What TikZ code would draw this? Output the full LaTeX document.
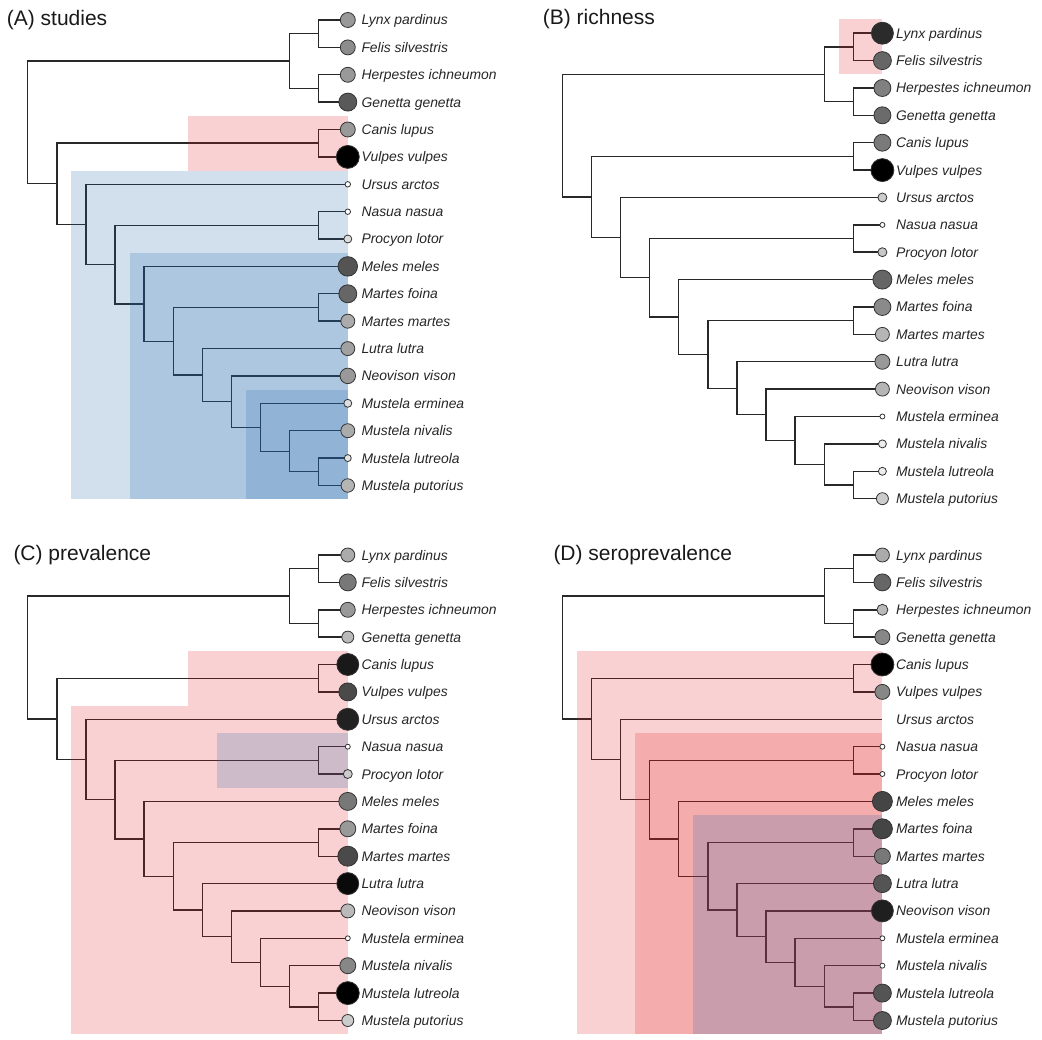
\documentclass[tikz,border=0pt]{standalone}
\usepackage{fontspec}
\setmainfont{Liberation Sans}

\definecolor{hlred}{RGB}{228,26,28}
\definecolor{hlblue}{RGB}{31,100,170}
\definecolor{branchcol}{RGB}{40,40,40}

% one carnivore tree, drawn in the frame of the current scope
\newcommand{\carntree}{%
  \coordinate (lynx) at (347.8,20);
  \coordinate (felis) at (347.8,47.4);
  \coordinate (herp) at (347.8,74.8);
  \coordinate (gen) at (347.8,102.1);
  \coordinate (canis) at (347.8,129.5);
  \coordinate (vulpes) at (347.8,156.9);
  \coordinate (ursus) at (347.8,184.3);
  \coordinate (nasua) at (347.8,211.7);
  \coordinate (procyon) at (347.8,239.0);
  \coordinate (meles) at (347.8,266.4);
  \coordinate (mfoina) at (347.8,293.8);
  \coordinate (mmartes) at (347.8,321.2);
  \coordinate (lutra) at (347.8,348.6);
  \coordinate (neo) at (347.8,375.9);
  \coordinate (ermin) at (347.8,403.3);
  \coordinate (nival) at (347.8,430.7);
  \coordinate (lutreo) at (347.8,458.1);
  \coordinate (putor) at (347.8,485.5);
  % inner nodes
  \coordinate (fel) at (318.7,33.7);
  \coordinate (her) at (318.7,88.45);
  \coordinate (feli) at (289.6,61.1);
  \coordinate (can) at (318.7,143.2);
  \coordinate (proc) at (318.7,225.35);
  \coordinate (mar) at (318.7,307.5);
  \coordinate (mus3) at (318.7,471.8);
  \coordinate (mus2) at (289.6,451.25);
  \coordinate (mus1) at (260.5,427.3);
  \coordinate (mneo) at (231.4,401.6);
  \coordinate (mlut) at (202.3,375.1);
  \coordinate (mmar) at (173.2,341.3);
  \coordinate (mustel) at (144.1,303.85);
  \coordinate (muste) at (115,264.6);
  \coordinate (arct) at (85.9,224.45);
  \coordinate (canif) at (56.8,183.8);
  \coordinate (root) at (27.7,122.45);
  % branches
  \draw[branch] (root) |- (feli);
  \draw[branch] (root) |- (canif);
  \draw[branch] (feli) |- (fel);
  \draw[branch] (feli) |- (her);
  \draw[branch] (fel) |- (lynx);
  \draw[branch] (fel) |- (felis);
  \draw[branch] (her) |- (herp);
  \draw[branch] (her) |- (gen);
  \draw[branch] (canif) |- (can);
  \draw[branch] (canif) |- (arct);
  \draw[branch] (can) |- (canis);
  \draw[branch] (can) |- (vulpes);
  \draw[branch] (arct) |- (ursus);
  \draw[branch] (arct) |- (muste);
  \draw[branch] (muste) |- (proc);
  \draw[branch] (muste) |- (mustel);
  \draw[branch] (proc) |- (nasua);
  \draw[branch] (proc) |- (procyon);
  \draw[branch] (mustel) |- (meles);
  \draw[branch] (mustel) |- (mmar);
  \draw[branch] (mmar) |- (mar);
  \draw[branch] (mmar) |- (mlut);
  \draw[branch] (mar) |- (mfoina);
  \draw[branch] (mar) |- (mmartes);
  \draw[branch] (mlut) |- (lutra);
  \draw[branch] (mlut) |- (mneo);
  \draw[branch] (mneo) |- (neo);
  \draw[branch] (mneo) |- (mus1);
  \draw[branch] (mus1) |- (ermin);
  \draw[branch] (mus1) |- (mus2);
  \draw[branch] (mus2) |- (nival);
  \draw[branch] (mus2) |- (mus3);
  \draw[branch] (mus3) |- (lutreo);
  \draw[branch] (mus3) |- (putor);
  % tip labels
  \node[taxon] (lynx-lab) at ([xshift=13.5pt,yshift=-5pt]lynx) {Lynx pardinus};
  \node[taxon] (felis-lab) at ([xshift=13.5pt,yshift=-5pt]felis) {Felis silvestris};
  \node[taxon] (herp-lab) at ([xshift=13.5pt,yshift=-5pt]herp) {Herpestes ichneumon};
  \node[taxon] (gen-lab) at ([xshift=13.5pt,yshift=-5pt]gen) {Genetta genetta};
  \node[taxon] (canis-lab) at ([xshift=13.5pt,yshift=-5pt]canis) {Canis lupus};
  \node[taxon] (vulpes-lab) at ([xshift=13.5pt,yshift=-5pt]vulpes) {Vulpes vulpes};
  \node[taxon] (ursus-lab) at ([xshift=13.5pt,yshift=-5pt]ursus) {Ursus arctos};
  \node[taxon] (nasua-lab) at ([xshift=13.5pt,yshift=-5pt]nasua) {Nasua nasua};
  \node[taxon] (procyon-lab) at ([xshift=13.5pt,yshift=-5pt]procyon) {Procyon lotor};
  \node[taxon] (meles-lab) at ([xshift=13.5pt,yshift=-5pt]meles) {Meles meles};
  \node[taxon] (mfoina-lab) at ([xshift=13.5pt,yshift=-5pt]mfoina) {Martes foina};
  \node[taxon] (mmartes-lab) at ([xshift=13.5pt,yshift=-5pt]mmartes) {Martes martes};
  \node[taxon] (lutra-lab) at ([xshift=13.5pt,yshift=-5pt]lutra) {Lutra lutra};
  \node[taxon] (neo-lab) at ([xshift=13.5pt,yshift=-5pt]neo) {Neovison vison};
  \node[taxon] (ermin-lab) at ([xshift=13.5pt,yshift=-5pt]ermin) {Mustela erminea};
  \node[taxon] (nival-lab) at ([xshift=13.5pt,yshift=-5pt]nival) {Mustela nivalis};
  \node[taxon] (lutreo-lab) at ([xshift=13.5pt,yshift=-5pt]lutreo) {Mustela lutreola};
  \node[taxon] (putor-lab) at ([xshift=13.5pt,yshift=-5pt]putor) {Mustela putorius};
}

\begin{document}
\begin{tikzpicture}[x=1pt, y=-1pt,
    branch/.style={draw=branchcol, line width=1.4pt},
    hl/.style={fill=#1, fill opacity=0.2, draw=none},
    tipdot/.style 2 args={circle, draw=black!80, line width=0.8pt, inner sep=0pt,
      minimum size=#1pt, fill=black!#2},
    taxon/.style={anchor=base west, inner sep=0pt, text=black!85,
      font=\fontsize{13.9}{16}\selectfont\itshape},
    paneltitle/.style={anchor=base west, inner sep=0pt, text=black!90,
      font=\fontsize{21}{25}\selectfont}]
  \useasboundingbox (0,0) rectangle (1042,1040);

  \node[paneltitle] (title-a) at (6.7,26) {(A) studies};
  \node[paneltitle] (title-b) at (542.7,25) {(B) richness};
  \node[paneltitle] (title-c) at (13.3,560.7) {(C) prevalence};
  \node[paneltitle] (title-d) at (553.3,560.7) {(D) seroprevalence};

  % (A) studies
  \begin{scope}[name prefix=a-]
    \carntree
    \fill[hl=hlred] (187.75,115.8) rectangle (347.8,170.6);
    \fill[hl=hlblue] (71.35,170.6) rectangle (347.8,499.2);
    \fill[hl=hlblue] (129.55,252.7) rectangle (347.8,499.2);
    \fill[hl=hlblue] (245.95,389.6) rectangle (347.8,499.2);
    \node[tipdot={15}{40}] (lynx-pt) at (lynx) {};
    \node[tipdot={15}{45}] (felis-pt) at (felis) {};
    \node[tipdot={15}{40}] (herp-pt) at (herp) {};
    \node[tipdot={18}{65}] (gen-pt) at (gen) {};
    \node[tipdot={15}{40}] (canis-pt) at (canis) {};
    \node[tipdot={23}{100}] (vulpes-pt) at (vulpes) {};
    \node[tipdot={5.5}{0}] (ursus-pt) at (ursus) {};
    \node[tipdot={5.5}{0}] (nasua-pt) at (nasua) {};
    \node[tipdot={8}{13}] (procyon-pt) at (procyon) {};
    \node[tipdot={19.5}{67}] (meles-pt) at (meles) {};
    \node[tipdot={18}{60}] (mfoina-pt) at (mfoina) {};
    \node[tipdot={14}{33}] (mmartes-pt) at (mmartes) {};
    \node[tipdot={14}{37}] (lutra-pt) at (lutra) {};
    \node[tipdot={15.5}{40}] (neo-pt) at (neo) {};
    \node[tipdot={8}{13}] (ermin-pt) at (ermin) {};
    \node[tipdot={14}{33}] (nival-pt) at (nival) {};
    \node[tipdot={7}{10}] (lutreo-pt) at (lutreo) {};
    \node[tipdot={13.5}{29}] (putor-pt) at (putor) {};
  \end{scope}

  % (B) richness
  \begin{scope}[shift={(534.6,13.2)}, name prefix=b-]
    \carntree
    \fill[hl=hlred] (304.15,6.3) rectangle (347.8,61.1);
    \node[tipdot={22}{83}] (lynx-pt) at (lynx) {};
    \node[tipdot={18}{60}] (felis-pt) at (felis) {};
    \node[tipdot={17}{50}] (herp-pt) at (herp) {};
    \node[tipdot={17}{58}] (gen-pt) at (gen) {};
    \node[tipdot={17}{52}] (canis-pt) at (canis) {};
    \node[tipdot={23}{100}] (vulpes-pt) at (vulpes) {};
    \node[tipdot={9}{20}] (ursus-pt) at (ursus) {};
    \node[tipdot={5}{0}] (nasua-pt) at (nasua) {};
    \node[tipdot={9}{22}] (procyon-pt) at (procyon) {};
    \node[tipdot={19}{60}] (meles-pt) at (meles) {};
    \node[tipdot={17}{46}] (mfoina-pt) at (mfoina) {};
    \node[tipdot={14}{29}] (mmartes-pt) at (mmartes) {};
    \node[tipdot={15}{40}] (lutra-pt) at (lutra) {};
    \node[tipdot={14}{29}] (neo-pt) at (neo) {};
    \node[tipdot={5}{0}] (ermin-pt) at (ermin) {};
    \node[tipdot={8}{7}] (nival-pt) at (nival) {};
    \node[tipdot={8}{7}] (lutreo-pt) at (lutreo) {};
    \node[tipdot={12}{20}] (putor-pt) at (putor) {};
  \end{scope}

  % (C) prevalence
  \begin{scope}[shift={(0,535)}, name prefix=c-]
    \carntree
    \fill[hl=hlred] (187.75,115.8) rectangle (347.8,170.6);
    \fill[hl=hlred] (71.35,170.6) rectangle (347.8,499.2);
    \fill[hl=hlblue] (216.85,197.9) rectangle (347.8,252.7);
    \node[tipdot={14}{33}] (lynx-pt) at (lynx) {};
    \node[tipdot={17}{53}] (felis-pt) at (felis) {};
    \node[tipdot={15}{40}] (herp-pt) at (herp) {};
    \node[tipdot={12}{27}] (gen-pt) at (gen) {};
    \node[tipdot={22}{90}] (canis-pt) at (canis) {};
    \node[tipdot={18}{71}] (vulpes-pt) at (vulpes) {};
    \node[tipdot={22}{87}] (ursus-pt) at (ursus) {};
    \node[tipdot={5}{0}] (nasua-pt) at (nasua) {};
    \node[tipdot={9}{20}] (procyon-pt) at (procyon) {};
    \node[tipdot={18}{53}] (meles-pt) at (meles) {};
    \node[tipdot={16}{40}] (mfoina-pt) at (mfoina) {};
    \node[tipdot={20}{71}] (mmartes-pt) at (mmartes) {};
    \node[tipdot={22}{96}] (lutra-pt) at (lutra) {};
    \node[tipdot={14}{27}] (neo-pt) at (neo) {};
    \node[tipdot={5}{0}] (ermin-pt) at (ermin) {};
    \node[tipdot={16}{47}] (nival-pt) at (nival) {};
    \node[tipdot={23}{100}] (lutreo-pt) at (lutreo) {};
    \node[tipdot={12}{20}] (putor-pt) at (putor) {};
  \end{scope}

  % (D) seroprevalence
  \begin{scope}[shift={(534.6,535)}, name prefix=d-]
    \carntree
    \fill[hl=hlred] (42.25,115.8) rectangle (347.8,499.2);
    \fill[hl=hlred] (100.45,197.9) rectangle (347.8,499.2);
    \fill[hl=hlblue] (158.65,280.1) rectangle (347.8,499.2);
    \node[tipdot={14}{33}] (lynx-pt) at (lynx) {};
    \node[tipdot={17}{60}] (felis-pt) at (felis) {};
    \node[tipdot={11}{27}] (herp-pt) at (herp) {};
    \node[tipdot={15}{47}] (gen-pt) at (gen) {};
    \node[tipdot={23}{100}] (canis-pt) at (canis) {};
    \node[tipdot={15}{47}] (vulpes-pt) at (vulpes) {};
    \node[tipdot={5}{0}] (nasua-pt) at (nasua) {};
    \node[tipdot={5}{0}] (procyon-pt) at (procyon) {};
    \node[tipdot={20}{73}] (meles-pt) at (meles) {};
    \node[tipdot={20}{73}] (mfoina-pt) at (mfoina) {};
    \node[tipdot={16}{53}] (mmartes-pt) at (mmartes) {};
    \node[tipdot={18}{67}] (lutra-pt) at (lutra) {};
    \node[tipdot={22}{88}] (neo-pt) at (neo) {};
    \node[tipdot={5}{0}] (ermin-pt) at (ermin) {};
    \node[tipdot={5}{0}] (nival-pt) at (nival) {};
    \node[tipdot={18}{67}] (lutreo-pt) at (lutreo) {};
    \node[tipdot={18}{65}] (putor-pt) at (putor) {};
  \end{scope}
\end{tikzpicture}
\end{document}
